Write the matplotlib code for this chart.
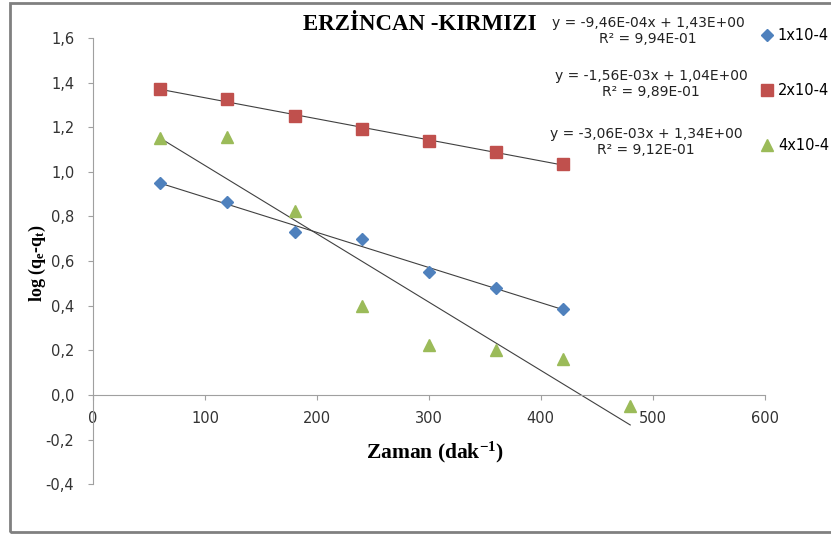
import numpy as np
import matplotlib.pyplot as plt
from matplotlib.lines import Line2D
from matplotlib.patches import Rectangle
from matplotlib.ticker import FuncFormatter, MultipleLocator

plt.rcParams['mathtext.default'] = 'regular'
plt.rcParams['font.family'] = 'DejaVu Sans'

# data
time = [60, 120, 180, 240, 300, 360, 420]
time_4 = [60, 120, 180, 240, 300, 360, 420, 480]
log_1 = [0.95, 0.865, 0.73, 0.70, 0.55, 0.48, 0.385]
log_2 = [1.37, 1.325, 1.25, 1.19, 1.14, 1.09, 1.035]
log_4 = [1.15, 1.155, 0.825, 0.40, 0.225, 0.20, 0.16, -0.05]
labels = ['1x10-4', '2x10-4', '4x10-4']
equations = ['y = -9,46E-04x + 1,43E+00\nR² = 9,94E-01',
             'y = -1,56E-03x + 1,04E+00\nR² = 9,89E-01',
             'y = -3,06E-03x + 1,34E+00\nR² = 9,12E-01']

colors = ['#4F81BD', '#C0504D', '#9BBB59']
markers = ['D', 's', '^']
msizes = [6, 9, 8]

fig = plt.figure(figsize=(8.31, 5.35), dpi=100)
ax = fig.add_axes([0.112, 0.095, 0.808, 0.834])

series = [(time, log_1), (time, log_2), (time_4, log_4)]
for (x, y), c, m, s in zip(series, colors, markers, msizes):
    x = np.array(x)
    y = np.array(y)
    # linear trend line over the data range
    k, b = np.polyfit(x, y, 1)
    ax.plot([x[0], x[-1]], [k * x[0] + b, k * x[-1] + b],
            color='#404040', linewidth=0.8, zorder=2)
    ax.plot(x, y, linestyle='none', marker=m, markersize=s,
            color=c, markeredgecolor=c, zorder=3)

ax.set_xlim(0, 600)
ax.set_ylim(-0.4, 1.6)
ax.xaxis.set_major_locator(MultipleLocator(100))
ax.yaxis.set_major_locator(MultipleLocator(0.2))
ax.yaxis.set_major_formatter(FuncFormatter(lambda v, p: f'{v:.1f}'.replace('.', ',').replace('-0,0', '0,0')))

for side in ['top', 'right']:
    ax.spines[side].set_visible(False)
ax.spines['bottom'].set_position(('data', 0))
ax.spines['bottom'].set_color('#a0a0a0')
ax.spines['left'].set_color('#a0a0a0')
ax.tick_params(axis='both', direction='out', length=3.5, color='#a0a0a0',
               labelsize=10.5, labelcolor='#333333')
ax.tick_params(axis='x', pad=8)
ax.tick_params(axis='y', pad=10)

fig.text(420 / 831, 1 - 25 / 535, 'ERZİNCAN -KIRMIZI', ha='center', va='center',
         fontsize=16.5, fontweight='bold', fontfamily='Liberation Serif')
fig.text(435 / 831, 1 - 452 / 535, 'Zaman (dak$^{-1}$)', ha='center', va='center',
         fontsize=15.5, fontweight='bold', fontfamily='Liberation Serif')
fig.text(37 / 831, 1 - 263 / 535, 'log (q$_e$-q$_t$)', ha='center', va='center',
         rotation=90, fontsize=13, fontweight='bold', fontfamily='Liberation Serif')

eq_pos = [(648, 31), (651, 84), (646, 142)]
for (px, py), eq in zip(eq_pos, equations):
    fig.text(px / 831, 1 - py / 535, eq, ha='center', va='center',
             fontsize=10, color='#222222', linespacing=1.1)

handles = [Line2D([], [], linestyle='none', marker=m, markersize=s, color=c)
           for m, s, c in zip(markers, msizes, colors)]
fig.legend(handles, labels, loc='upper left', bbox_to_anchor=(748 / 831, 1 - 15 / 535),
           frameon=False, labelspacing=2.75, handlelength=0.8, handletextpad=0.35,
           prop={'size': 10.5})

# outer chart frame
fig.patches.append(Rectangle((10 / 831, 3 / 535), 1.0, 1 - 6 / 535, transform=fig.transFigure,
                             fill=False, edgecolor='#808080', linewidth=2, clip_on=True))

fig.savefig('out.png', dpi=100)
